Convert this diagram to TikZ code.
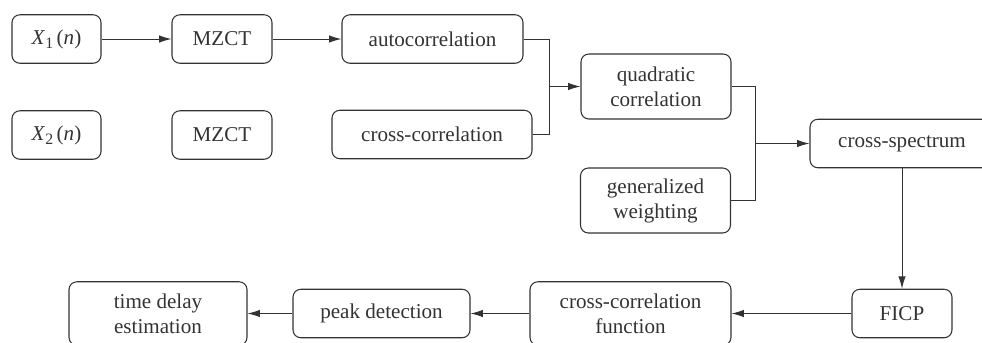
\documentclass[tikz,border=0pt]{standalone}
\usepackage{fontspec}
\setmainfont{Liberation Serif}
\usetikzlibrary{arrows.meta}
\usetikzlibrary{positioning}
\definecolor{ink}{HTML}{333333}
\tikzset{blk/.style = {draw=ink, text=ink, line width=0.6pt, rounded corners=4.5pt,
                       minimum height=0.97cm, inner sep=0, align=center,
                       font=\fontsize{12}{14.2}\selectfont}}
\tikzset{arr/.style = {draw=ink, line width=0.55pt, -{Latex[length=7pt,width=4.2pt]}}}
\tikzset{ln/.style = {draw=ink, line width=0.55pt}}
\newcommand{\sig}[1]{\textit{X}\raisebox{-0.45ex}{\fontsize{9}{9}\selectfont #1}\,(\textit{n})}

\begin{document}
\begin{tikzpicture}[x=0.2mm, y=-0.2mm]
    \useasboundingbox (0, 0) rectangle (982, 342);
    \clip (0, 0) rectangle (982, 342);

    \node [blk, minimum width=1.78cm] (xone) at (56.5, 39) {\sig{1}};
    \node [blk, minimum width=2cm] (mzone) at (222, 39) {MZCT};
    \node [blk, minimum width=3.62cm] (auto) at (432.5, 39) {autocorrelation};

    \node [blk, minimum width=1.78cm] (xtwo) at (56.5, 135) {\sig{2}};
    \node [blk, minimum width=2cm] (mztwo) at (222, 135) {MZCT};
    \node [blk, minimum width=4cm] (cross) at (432, 134.5) {cross-correlation};

    \node [blk, minimum width=3cm, minimum height=1.3cm] (quad) at (656, 86.5) {quadratic\\correlation};
    \node [blk, minimum width=3cm, minimum height=1.3cm] (weight) at (655.5, 200.5) {generalized\\weighting};
    \node [blk, minimum width=3.68cm] (spec) at (902, 143.5) {cross-spectrum};

    \node [blk, minimum width=2cm] (ficp) at (902, 313.5) {FICP};
    \node [blk, minimum width=4.02cm, minimum height=1.27cm] (ccf) at (630.5, 313.5) {cross-correlation\\function};
    \node [blk, minimum width=3.54cm] (peak) at (381.5, 313.5) {peak detection};
    \node [blk, minimum width=3.56cm, minimum height=1.27cm] (tde) at (158, 313.5) {time delay\\estimation};

    \coordinate (jone) at (549, 86.5);
    \coordinate (jtwo) at (755, 143.5);

    \draw [arr] (xone) -- (mzone);
    \draw [arr] (mzone) -- (auto);
    \draw [ln] (auto) -| (jone);
    \draw [ln] (cross) -| (jone);
    \draw [arr] (jone) -- (quad);
    \draw [ln] (quad) -| (jtwo);
    \draw [ln] (weight) -| (jtwo);
    \draw [arr] (jtwo) -- (spec);
    \draw [arr] (spec) -- (ficp);
    \draw [arr] (ficp) -- (ccf);
    \draw [arr] (ccf) -- (peak);
    \draw [arr] (peak) -- (tde);
\end{tikzpicture}
\end{document}
